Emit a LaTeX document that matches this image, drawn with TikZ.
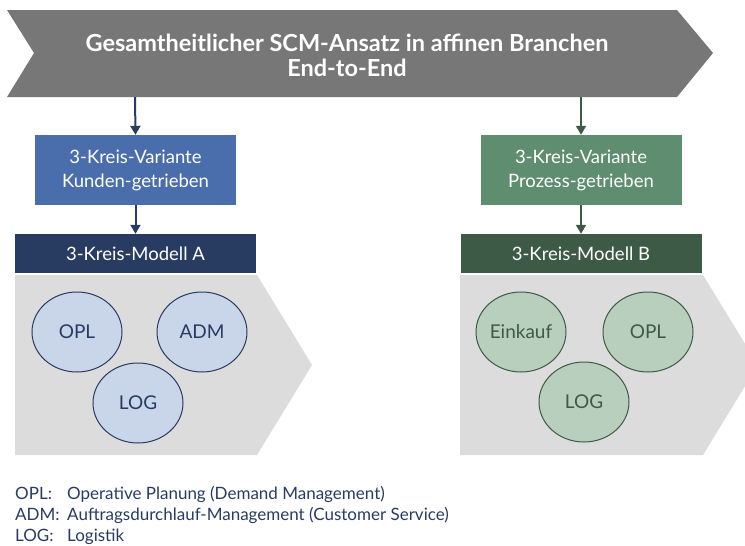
\documentclass[tikz,border=0pt]{standalone}
\usepackage{fontspec}
\setmainfont{Lato}
\usetikzlibrary{arrows.meta,shapes.geometric}
\definecolor{chevgray}{HTML}{777777}
\definecolor{panelgray}{HTML}{DCDCDC}
\definecolor{blueA}{HTML}{4A6DAB}
\definecolor{navyA}{HTML}{283C62}
\definecolor{circA}{HTML}{C9D5E8}
\definecolor{greenB}{HTML}{5F8D6F}
\definecolor{dgreenB}{HTML}{3C5A45}
\definecolor{circB}{HTML}{B9CFBD}
\newcommand{\lgd}[1]{\makebox[52pt][l]{#1}}
\tikzset{
  varbox/.style={minimum width=201pt,minimum height=70pt,inner sep=0pt,align=center,text=white,font=\fontsize{18.5}{24}\selectfont},
  modbox/.style={minimum width=241pt,minimum height=39pt,inner sep=0pt,text=white,font=\fontsize{18.5}{20}\selectfont},
  circA/.style={ellipse,draw=navyA,line width=1pt,fill=circA,minimum width=90pt,minimum height=80pt,inner sep=0pt,text=navyA,font=\fontsize{19}{20}\selectfont},
  circB/.style={ellipse,draw=dgreenB,line width=1pt,fill=circB,minimum width=90pt,minimum height=80pt,inner sep=0pt,text=dgreenB,font=\fontsize{19}{20}\selectfont},
  conn/.style={line width=2pt,-{Triangle[length=9pt,width=10pt]}}
}
\begin{document}
\begin{tikzpicture}[x=1pt,y=-1pt]
\useasboundingbox (0,0) rectangle (745,546);
% top chevron
\fill[chevgray] (7,10) -- (677,10) -- (713,53) -- (677,97) -- (7,97) -- (34,53) -- cycle;
\node[text=white,font=\bfseries\fontsize{23.5}{25}\selectfont,align=center] (title) at (347,55) {Gesamtheitlicher SCM-Ansatz in affinen Branchen\\End-to-End};
\coordinate (tA) at (135,97);
\coordinate (tB) at (581,97);
% panels
\fill[panelgray] (15,275) -- (257,275) -- (312,365) -- (257,455) -- (15,455) -- cycle;
\fill[panelgray] (460,275) -- (703,275) -- (758,365) -- (703,455) -- (460,455) -- cycle;
% boxes
\node[varbox,fill=blueA] (vA) at (135.5,170) {3-Kreis-Variante\\Kunden-getrieben};
\node[modbox,fill=navyA] (mA) at (135.5,253.5) {3-Kreis-Modell A};
\node[varbox,fill=greenB] (vB) at (581,170) {3-Kreis-Variante\\Prozess-getrieben};
\node[modbox,fill=dgreenB] (mB) at (581,253.5) {3-Kreis-Modell B};
\draw[conn,navyA] (tA) -- (vA.north);
\draw[conn,navyA] (vA.south) -- (mA.north);
\draw[conn,dgreenB] (tB) -- (vB.north);
\draw[conn,dgreenB] (vB.south) -- (mB.north);
% circles
\node[circA] (opla) at (77,332) {OPL};
\node[circA] (adm) at (202,332) {ADM};
\node[circA] (loga) at (138,403) {LOG};
\node[circB] (ein) at (521,332) {Einkauf};
\node[circB] (oplb) at (648,332) {OPL};
\node[circB] (logb) at (584,402) {LOG};
% legend
\node[anchor=base west,inner sep=0pt,text=navyA,font=\fontsize{17}{21}\selectfont,align=left] (legend) at (15,541)
 {\lgd{OPL:}Operative Planung (Demand Management)\\\lgd{ADM:}Auftragsdurchlauf-Management (Customer Service)\\\lgd{LOG:}Logistik};
\end{tikzpicture}
\end{document}
